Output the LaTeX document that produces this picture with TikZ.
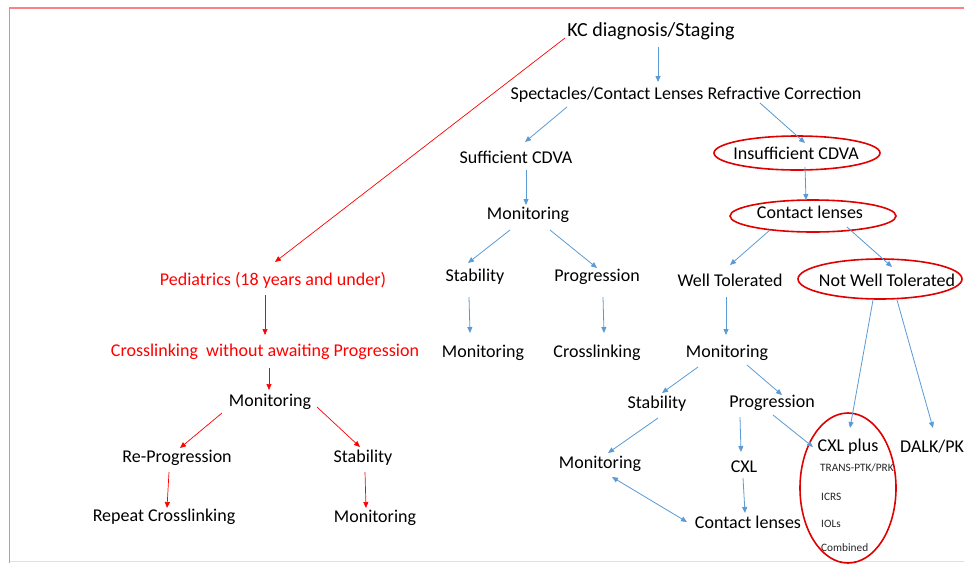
\documentclass[tikz,border=0pt]{standalone}
\usepackage{fontspec}
\setmainfont{Carlito}
\usetikzlibrary{calc,arrows.meta}
\definecolor{ablue}{HTML}{5B9BD5}
\definecolor{ared}{HTML}{FF0000}
\definecolor{ered}{HTML}{E00000}
\definecolor{framecol}{HTML}{FF8080}
\begin{document}
\begin{tikzpicture}[x=1pt,y=-1pt,
  lbl/.style={font=\fontsize{18}{20}\selectfont, inner sep=0pt, text=black},
  rlbl/.style={lbl, text=ared},
  sml/.style={font=\fontsize{11.3}{13}\selectfont, inner sep=0pt, anchor=west, text=black!85},
  barrow/.style={draw=ablue, line width=0.8pt, -{Triangle[length=6pt,width=5pt]}},
  bdarrow/.style={draw=ablue, line width=0.8pt, {Triangle[length=6pt,width=5pt]}-{Triangle[length=6pt,width=5pt]}},
  rarrow/.style={draw=ared, line width=0.7pt, -{Triangle[length=6pt,width=5pt]}},
  oval/.style={draw=ered, line width=1.6pt}]
\useasboundingbox (0,0) rectangle (964,563);
\fill[white] (0,0) rectangle (964,563);
% frame
\draw[framecol, line width=1.5pt] (964,8) -- (9.5,8) -- (9.5,563);
\draw[framecol!35, line width=1pt] (9.5,561.5) -- (964,561.5);

% nodes
\node[lbl, font=\fontsize{20}{22}\selectfont] (kc) at (651,31) {KC diagnosis/Staging};
\node[lbl] (spec) at (686,95) {Spectacles/Contact Lenses Refractive Correction};
\node[lbl] (suff) at (516,157) {Sufficient CDVA};
\node[lbl] (insuff) at (796,153) {Insufficient CDVA};
\node[lbl] (mon1) at (528,215) {Monitoring};
\node[lbl] (cl1) at (810,212) {Contact lenses};
\node[lbl] (stab1) at (475,277) {Stability};
\node[lbl] (prog1) at (597,277) {Progression};
\node[lbl] (well) at (730,280) {Well Tolerated};
\node[lbl] (notwell) at (887,280) {Not Well Tolerated};
\node[rlbl] (ped) at (273,280) {Pediatrics (18 years and under)};
\node[rlbl] (cwa) at (265,352) {Crosslinking\ \ without awaiting Progression};
\node[lbl] (mon2) at (483,353) {Monitoring};
\node[lbl] (cross1) at (597,353) {Crosslinking};
\node[lbl] (mon3) at (727,353) {Monitoring};
\node[lbl] (monr) at (270,402) {Monitoring};
\node[lbl] (stab2) at (657,404) {Stability};
\node[lbl] (prog2) at (772,403) {Progression};
\node[lbl] (cxlp) at (848,447) {CXL plus};
\node[lbl, anchor=west] (dalk) at (900,447) {DALK/PK};
\node[lbl] (rep) at (177,458) {Re-Progression};
\node[lbl] (stabl) at (363,458) {Stability};
\node[lbl] (mon4) at (600,464) {Monitoring};
\node[lbl] (cxl) at (744,467) {CXL};
\node[sml] (trans) at (820,468) {TRANS-PTK/PRK};
\node[sml] (icrs) at (821,497) {ICRS};
\node[sml] (iols) at (821,524) {IOLs};
\node[sml] (comb) at (821,548) {Combined};
\node[lbl] (repeat) at (164,517) {Repeat Crosslinking};
\node[lbl] (monl) at (375,518) {Monitoring};
\node[lbl] (cl2) at (748,522) {Contact lenses};

% ovals
\draw[oval] (797,153) ellipse [x radius=83, y radius=17];
\draw[oval] (813,216) ellipse [x radius=83, y radius=16];
\draw[oval] (880,279) ellipse [x radius=82, y radius=20];
\draw[oval] (848,488) ellipse [x radius=48, y radius=75];

% blue arrows
\draw[barrow] ($(kc)+(7,16)$) -- ($(spec)+(-28,-13)$);
\draw[barrow] ($(spec)+(-119,12)$) -- ($(suff)+(9,-15)$);
\draw[barrow] ($(spec)+(74,8)$) -- ($(insuff)+(9,-10)$);
\draw[barrow] ($(suff)+(10,13)$) -- ($(mon1)+(-2,-10)$);
\draw[barrow] ($(insuff)+(9,14)$) -- ($(cl1)+(-4,-12)$);
\draw[barrow] ($(mon1)+(-18,15)$) -- ($(stab1)+(-7,-14)$);
\draw[barrow] ($(mon1)+(22,15)$) -- ($(prog1)+(0,-9)$);
\draw[barrow] ($(stab1)+(-6,20)$) -- ($(mon2)+(-13,-20)$);
\draw[barrow] ($(prog1)+(6,20)$) -- ($(cross1)+(7,-20)$);
\draw[barrow] ($(cl1)+(-40,18)$) -- ($(well)+(0,-15)$);
\draw[barrow] ($(cl1)+(37,15)$) -- ($(notwell)+(5,-13)$);
\draw[barrow] ($(well)+(-4,17)$) -- ($(mon3)+(-1,-18)$);
\draw[barrow] ($(notwell)+(-14,20)$) -- ($(cxlp)+(2,-19)$);
\draw[barrow] ($(notwell)+(10,20)$) -- ($(dalk.west)+(33,-19)$);
\draw[barrow] ($(mon3)+(-29,14)$) -- ($(stab2)+(5,-11)$);
\draw[barrow] ($(mon3)+(20,12)$) -- ($(prog2)+(10,-8)$);
\draw[barrow] ($(stab2)+(1,14)$) -- ($(mon4)+(8,-11)$);
\draw[barrow] ($(prog2)+(-32,14)$) -- ($(cxl)+(-3,-15)$);
\draw[barrow] ($(prog2)+(1,12)$) -- ($(cxlp)+(-35,0)$);
\draw[barrow] ($(cxl)+(-1,11)$) -- ($(cl2)+(-3,-9)$);
\draw[bdarrow] ($(mon4)+(12,13)$) -- ($(cl2)+(-61,0)$);

% red arrows
\draw[rarrow] ($(kc)+(-86,7)$) -- ($(ped)+(2,-18)$);
\draw[rarrow] ($(ped)+(-8,15)$) -- ($(cwa)+(0,-17)$);
\draw[rarrow] ($(cwa)+(4,16)$) -- ($(monr)+(-1,-12)$);
\draw[rarrow] ($(monr)+(-48,11)$) -- ($(rep)+(3,-10)$);
\draw[rarrow] ($(monr)+(47,5)$) -- ($(stabl)+(-3,-11)$);
\draw[rarrow] ($(rep)+(-8,14)$) -- ($(repeat)+(3,-9)$);
\draw[rarrow] ($(stabl)+(2,14)$) -- ($(monl)+(-9,-10)$);
\end{tikzpicture}
\end{document}
